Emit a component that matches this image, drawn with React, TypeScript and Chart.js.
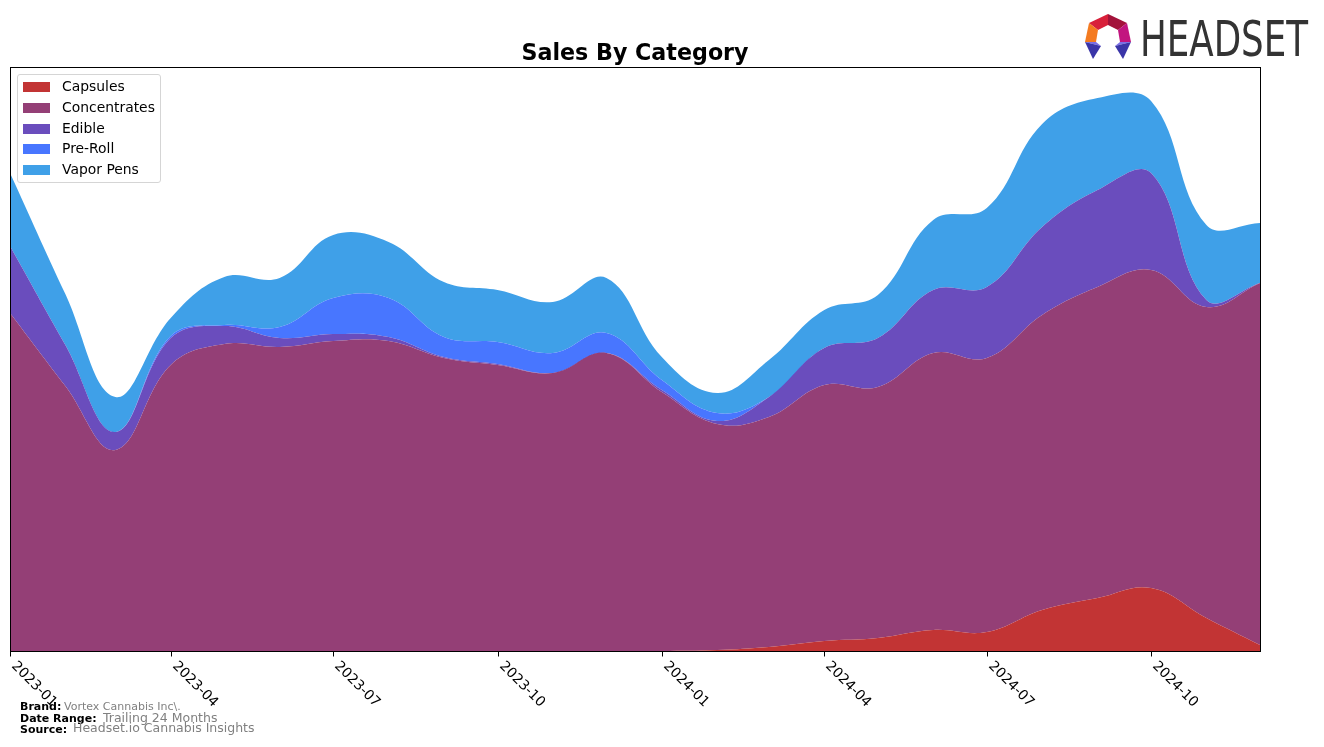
import React, { useEffect, useRef } from "react";
import { Chart, registerables } from "chart.js";

Chart.register(...registerables);

// ---- Data (stacked heights, arbitrary units) ----
const MONTHS = [
  "2023-01", "2023-02", "2023-03", "2023-04", "2023-05", "2023-06",
  "2023-07", "2023-08", "2023-09", "2023-10", "2023-11", "2023-12",
  "2024-01", "2024-02", "2024-03", "2024-04", "2024-05", "2024-06",
  "2024-07", "2024-08", "2024-09", "2024-10", "2024-11", "2024-12",
];
const CAPSULES = [0, 0, 0, 0, 0, 0, 0, 0, 0, 0, 0, 0, 0, 1, 4, 10, 13, 21, 19, 41, 53, 63, 33, 6];
const CONCENTRATES = [338, 265, 201, 286, 307, 304, 310, 310, 293, 286, 278, 298, 259, 226, 230, 256, 251, 277, 274, 295, 311, 318, 311, 362];
const EDIBLE = [67, 41, 18, 27, 18, 9, 7, 4, 1, 1, 0, 0, 2, 3, 20, 37, 49, 63, 71, 88, 97, 97, 7, 0];
const PRE_ROLL = [0, 0, 0, 2, 1, 11, 36, 39, 20, 22, 20, 20, 10, 8, 0, 0, 0, 0, 0, 0, 0, 0, 0, 0];
const VAPOR_PENS = [73, 51, 35, 18, 48, 49, 63, 56, 55, 52, 51, 55, 23, 20, 37, 38, 43, 70, 79, 103, 92, 72, 75, 60];
const TICK_LABELS = ["2023-01", "2023-04", "2023-07", "2023-10", "2024-01", "2024-04", "2024-07", "2024-10"];
const Y_MAX = 584;

const SERIES = [
  { name: "Capsules", data: CAPSULES, color: "#C23434" },
  { name: "Concentrates", data: CONCENTRATES, color: "#943F76" },
  { name: "Edible", data: EDIBLE, color: "#6A4DBD" },
  { name: "Pre-Roll", data: PRE_ROLL, color: "#4876FF" },
  { name: "Vapor Pens", data: VAPOR_PENS, color: "#3FA0E8" },
];

const dayOf = (m: string) => {
  const [y, mo] = m.split("-").map(Number);
  return (Date.UTC(y, mo - 1, 1) - Date.UTC(2023, 0, 1)) / 86400000;
};

const axisPlugin = {
  id: "mplAxis",
  afterDraw(chart: any) {
    const { ctx, chartArea } = chart;
    const { left, right, top, bottom } = chartArea;
    const xs = chart.scales.x;
    ctx.save();
    ctx.strokeStyle = "#000";
    ctx.lineWidth = 1;
    ctx.strokeRect(left + 0.5, top + 0.5, right - left, bottom - top);
    ctx.fillStyle = "#000";
    ctx.font = '13.9px "DejaVu Sans"';
    ctx.textAlign = "left";
    ctx.textBaseline = "top";
    TICK_LABELS.forEach((lab) => {
      const px = Math.round(xs.getPixelForValue(dayOf(lab))) + 0.5;
      ctx.beginPath();
      ctx.moveTo(px, bottom + 0.5);
      ctx.lineTo(px, bottom + 5.5);
      ctx.stroke();
      ctx.save();
      ctx.translate(px + 8, bottom + 8);
      ctx.rotate(Math.PI / 4);
      ctx.fillText(lab, 0, 0);
      ctx.restore();
    });
    ctx.restore();
  },
};

function ChartCanvas() {
  const ref = useRef<HTMLCanvasElement>(null);
  useEffect(() => {
    if (!ref.current) return;
    const chart = new Chart(ref.current, {
      type: "line",
      data: {
        datasets: SERIES.map((s, i) => ({
          label: s.name,
          data: s.data.map((v, j) => ({ x: dayOf(MONTHS[j]), y: v })),
          backgroundColor: s.color,
          borderColor: s.color,
          borderWidth: 0,
          pointRadius: 0,
          fill: i === 0 ? "origin" : "-1",
          tension: 0.4,
        })),
      },
      options: {
        animation: false,
        responsive: false,
        events: [],
        layout: { padding: { left: 10, right: 64, top: 67, bottom: 96 } },
        plugins: { legend: { display: false }, tooltip: { enabled: false }, title: { display: false } },
        scales: {
          x: { type: "linear", display: false, min: 0, max: dayOf("2024-12") },
          y: { stacked: true, display: false, min: 0, max: Y_MAX },
        },
      },
      plugins: [axisPlugin],
    });
    return () => chart.destroy();
  }, []);
  return <canvas ref={ref} width={1324} height={747} style={{ position: "absolute", left: 0, top: 0 }} />;
}

export default function App() {
  const abs = (o: any) => ({ position: "absolute" as const, whiteSpace: "nowrap" as const, lineHeight: 1, ...o });
  return (
    <div style={{ position: "fixed", left: 0, top: 0, width: 1324, height: 747, background: "#fff", fontFamily: '"DejaVu Sans", sans-serif', overflow: "hidden" }}>
      <ChartCanvas />
      {/* Title */}
      <div style={{ position: "absolute", left: 0, width: 1270, top: 39, lineHeight: "26px", textAlign: "center", fontWeight: "bold", fontSize: "22.2px", color: "#000" }}>
        Sales By Category
      </div>
      {/* Legend */}
      <div style={{ position: "absolute", left: 17, top: 74, width: 142, height: 107, border: "1px solid #d5d5d5", borderRadius: 3, background: "rgba(255,255,255,0.8)" }}>
        {SERIES.map((s, i) => (
          <div key={s.name}>
            <div style={{ position: "absolute", left: 5, top: 7 + i * 20.8, width: 27, height: 10, background: s.color }} />
            <div style={abs({ left: 44, top: 5 + i * 20.8, fontSize: "13.9px", color: "#000" })}>{s.name}</div>
          </div>
        ))}
      </div>
      {/* Footer */}
      <div style={abs({ left: 20, top: 701.2, fontSize: 11, fontWeight: "bold", color: "#000" })}>Brand:</div>
      <div style={abs({ left: 64, top: 701.2, fontSize: 11, color: "#808080" })}>Vortex Cannabis Inc\.</div>
      <div style={abs({ left: 20, top: 713.2, fontSize: 11, fontWeight: "bold", color: "#000" })}>Date Range:</div>
      <div style={abs({ left: 103, top: 712.4, fontSize: 12.5, color: "#808080" })}>Trailing 24 Months</div>
      <div style={abs({ left: 20, top: 723.7, fontSize: 11, fontWeight: "bold", color: "#000" })}>Source:</div>
      <div style={abs({ left: 73, top: 722.4, fontSize: 12.5, color: "#808080" })}>Headset.io Cannabis Insights</div>
      {/* Logo */}
      <svg style={{ position: "absolute", left: 1080, top: 10 }} width={240} height={56} viewBox="0 0 240 56">
        <polygon points="9,13 28,4 28,15 18,20" fill="#D8203A" />
        <polygon points="28,4 47,13 38,20 28,15" fill="#A3123A" />
        <polygon points="9,13 18,20 16,32 5,32" fill="#F47B20" />
        <polygon points="47,13 51,32 40,32 38,20" fill="#C2157F" />
        <polygon points="5,32 16,32 21,36" fill="#7A6EE6" />
        <polygon points="5,32 21,36 13,49" fill="#3A35A8" />
        <polygon points="51,32 40,32 35,36" fill="#7A6EE6" />
        <polygon points="51,32 35,36 43,49" fill="#3A35A8" />
        <text x={60} y={46} fontSize={49} fill="#333" textLength={168} lengthAdjust="spacingAndGlyphs"
          style={{ fontFamily: '"Liberation Sans Narrow", "DejaVu Sans Condensed", "DejaVu Sans", sans-serif' }}>HEADSET</text>
      </svg>
    </div>
  );
}
